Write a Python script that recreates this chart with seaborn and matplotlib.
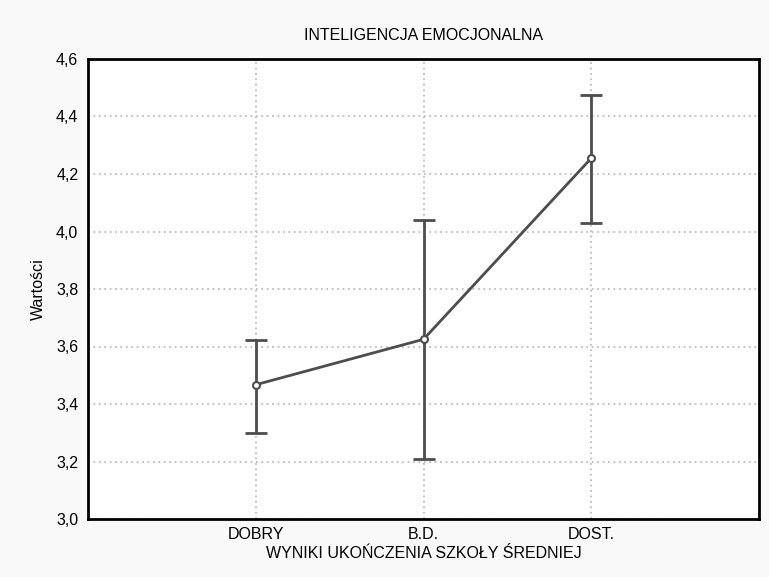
import matplotlib
matplotlib.use("Agg")
import matplotlib.pyplot as plt
import seaborn as sns
import numpy as np
import pandas as pd
from matplotlib.ticker import FuncFormatter

categories = ["DOBRY", "B.D.", "DOST."]
means = [3.467, 3.625, 4.255]
upper = [3.624, 4.040, 4.475]
lower = [3.300, 3.210, 4.028]
yticks = [3.0, 3.2, 3.4, 3.6, 3.8, 4.0, 4.2, 4.4, 4.6]

sns.set_style("white")
plt.rcParams['font.family'] = ['Liberation Sans', 'DejaVu Sans']
plt.rcParams['text.color'] = 'black'
plt.rcParams['axes.labelcolor'] = 'black'

fig = plt.figure(figsize=(7.69, 5.77), dpi=100, facecolor="#f9f9f9")
ax = fig.add_axes([88/769, 1 - 519/577, 671/769, 460/577])
ax.set_facecolor("white")

df = pd.DataFrame({"cat": categories, "mean": means})
col = "#4d4d4d"

ax.set_xlim(-1, 3)
ax.set_ylim(3.0, 4.6)
ax.set_yticks(yticks)
ax.set_xticks(range(len(categories)))
ax.set_xticklabels(categories)
ax.grid(True, color="#bdbdbd", linestyle=(0, (1, 2)), linewidth=1.3)
ax.set_axisbelow(True)

m = np.array(means)
ax.errorbar(range(len(categories)), m,
            yerr=[m - np.array(lower), np.array(upper) - m],
            fmt="none", ecolor=col, elinewidth=2, capsize=8, capthick=2, zorder=3)
sns.lineplot(data=df, x="cat", y="mean", ax=ax, color=col, linewidth=2,
             marker="o", markersize=5, markerfacecolor="white",
             markeredgecolor=col, markeredgewidth=1.5, sort=False, zorder=4)

ax.yaxis.set_major_formatter(FuncFormatter(lambda v, p: f"{v:.1f}".replace(".", ",")))
ax.tick_params(axis="both", direction="in", length=3, width=1, labelsize=11.5, colors="black")
ax.tick_params(axis="y", pad=7)
ax.tick_params(axis="x", length=0, pad=6)
for s in ax.spines.values():
    s.set_visible(True)
    s.set_color("black")
    s.set_linewidth(2)

ax.set_title("INTELIGENCJA EMOCJONALNA", fontsize=11.5, pad=14, color="black")
ax.set_xlabel("WYNIKI UKOŃCZENIA SZKOŁY ŚREDNIEJ", fontsize=11.5, labelpad=3)
ax.set_ylabel("Wartości", fontsize=11.5, labelpad=7)

fig.savefig("out.png", dpi=100, facecolor=fig.get_facecolor())
